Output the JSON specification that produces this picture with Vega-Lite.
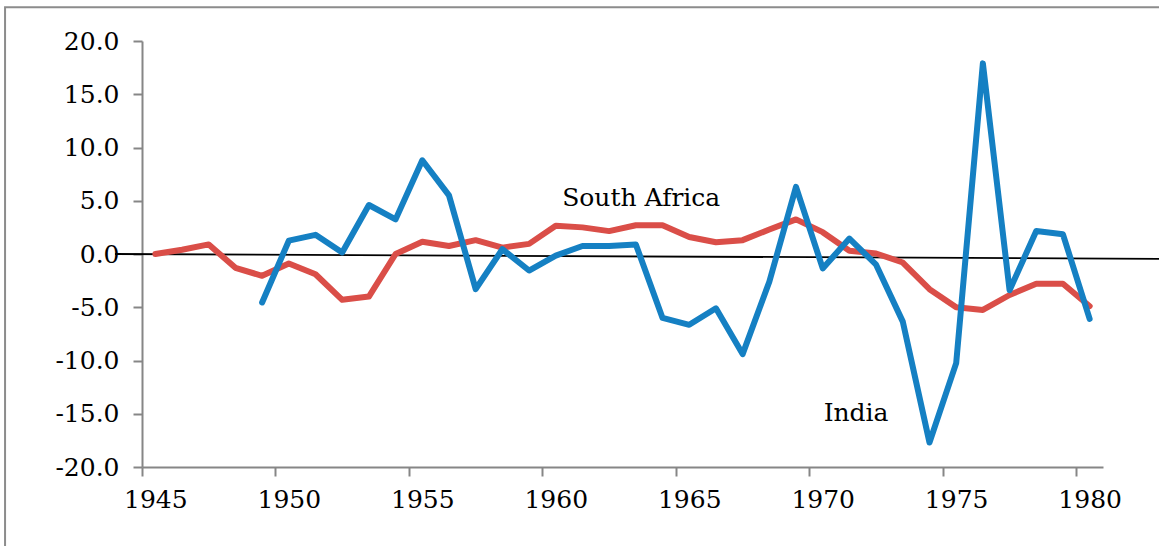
{
  "$schema": "https://vega.github.io/schema/vega-lite/v6.json",
  "width": 961,
  "height": 426,
  "autosize": {"type": "none"},
  "padding": {"left": 142, "top": 41, "right": 56, "bottom": 79},
  "background": "white",
  "config": {
    "view": {"stroke": null},
    "axis": {
      "domainColor": "#868686",
      "domainWidth": 2,
      "tickColor": "#868686",
      "tickWidth": 2,
      "tickSize": 9,
      "grid": false,
      "labelFont": "DejaVu Serif",
      "labelFontSize": 25,
      "labelColor": "#000000",
      "title": null
    },
    "text": {"font": "DejaVu Serif", "fontSize": 25, "color": "#000000"}
  },
  "datasets": {
    "series": [
      {"series": "South Africa", "year": 1945, "value": 0.0},
      {"series": "South Africa", "year": 1946, "value": 0.4},
      {"series": "South Africa", "year": 1947, "value": 0.9},
      {"series": "South Africa", "year": 1948, "value": -1.3},
      {"series": "South Africa", "year": 1949, "value": -2.05},
      {"series": "South Africa", "year": 1950, "value": -0.9},
      {"series": "South Africa", "year": 1951, "value": -1.9},
      {"series": "South Africa", "year": 1952, "value": -4.3},
      {"series": "South Africa", "year": 1953, "value": -4.0},
      {"series": "South Africa", "year": 1954, "value": 0.0},
      {"series": "South Africa", "year": 1955, "value": 1.15},
      {"series": "South Africa", "year": 1956, "value": 0.75},
      {"series": "South Africa", "year": 1957, "value": 1.3},
      {"series": "South Africa", "year": 1958, "value": 0.6},
      {"series": "South Africa", "year": 1959, "value": 0.95},
      {"series": "South Africa", "year": 1960, "value": 2.65},
      {"series": "South Africa", "year": 1961, "value": 2.5},
      {"series": "South Africa", "year": 1962, "value": 2.15},
      {"series": "South Africa", "year": 1963, "value": 2.7},
      {"series": "South Africa", "year": 1964, "value": 2.7},
      {"series": "South Africa", "year": 1965, "value": 1.6},
      {"series": "South Africa", "year": 1966, "value": 1.1},
      {"series": "South Africa", "year": 1967, "value": 1.3},
      {"series": "South Africa", "year": 1968, "value": 2.3},
      {"series": "South Africa", "year": 1969, "value": 3.25},
      {"series": "South Africa", "year": 1970, "value": 2.05},
      {"series": "South Africa", "year": 1971, "value": 0.3},
      {"series": "South Africa", "year": 1972, "value": 0.05},
      {"series": "South Africa", "year": 1973, "value": -0.8},
      {"series": "South Africa", "year": 1974, "value": -3.3},
      {"series": "South Africa", "year": 1975, "value": -5.0},
      {"series": "South Africa", "year": 1976, "value": -5.25},
      {"series": "South Africa", "year": 1977, "value": -3.85},
      {"series": "South Africa", "year": 1978, "value": -2.8},
      {"series": "South Africa", "year": 1979, "value": -2.8},
      {"series": "South Africa", "year": 1980, "value": -4.9},
      {"series": "India", "year": 1949, "value": -4.55},
      {"series": "India", "year": 1950, "value": 1.25},
      {"series": "India", "year": 1951, "value": 1.8},
      {"series": "India", "year": 1952, "value": 0.15},
      {"series": "India", "year": 1953, "value": 4.6},
      {"series": "India", "year": 1954, "value": 3.25},
      {"series": "India", "year": 1955, "value": 8.8},
      {"series": "India", "year": 1956, "value": 5.5},
      {"series": "India", "year": 1957, "value": -3.3},
      {"series": "India", "year": 1958, "value": 0.45},
      {"series": "India", "year": 1959, "value": -1.55},
      {"series": "India", "year": 1960, "value": -0.15},
      {"series": "India", "year": 1961, "value": 0.75},
      {"series": "India", "year": 1962, "value": 0.75},
      {"series": "India", "year": 1963, "value": 0.9},
      {"series": "India", "year": 1964, "value": -6.0},
      {"series": "India", "year": 1965, "value": -6.65},
      {"series": "India", "year": 1966, "value": -5.1},
      {"series": "India", "year": 1967, "value": -9.4},
      {"series": "India", "year": 1968, "value": -2.6},
      {"series": "India", "year": 1969, "value": 6.3},
      {"series": "India", "year": 1970, "value": -1.35},
      {"series": "India", "year": 1971, "value": 1.45},
      {"series": "India", "year": 1972, "value": -1.0},
      {"series": "India", "year": 1973, "value": -6.35},
      {"series": "India", "year": 1974, "value": -17.7},
      {"series": "India", "year": 1975, "value": -10.25},
      {"series": "India", "year": 1976, "value": 17.9},
      {"series": "India", "year": 1977, "value": -3.4},
      {"series": "India", "year": 1978, "value": 2.15},
      {"series": "India", "year": 1979, "value": 1.85},
      {"series": "India", "year": 1980, "value": -6.1}
    ]
  },
  "encoding": {
    "x": {
      "field": "year",
      "type": "quantitative",
      "scale": {"domain": [1944.5, 1980.5], "nice": false, "zero": false},
      "axis": {
        "values": [1944.5, 1949.5, 1954.5, 1959.5, 1964.5, 1969.5, 1974.5, 1979.5],
        "labelExpr": "format(datum.value + 0.5, 'd')",
        "labelOffset": 13.35,
        "labelPadding": 11,
        "labelFlush": false,
        "labelOverlap": false
      }
    },
    "y": {
      "field": "value",
      "type": "quantitative",
      "scale": {"domain": [-20, 20], "nice": false, "zero": false},
      "axis": {
        "values": [-20, -15, -10, -5, 0, 5, 10, 15, 20],
        "labelExpr": "datum.value < 0 ? '-' + format(-datum.value, '.1f') : format(datum.value, '.1f')",
        "labelPadding": 14,
        "labelFlush": false,
        "labelOverlap": false
      }
    }
  },
  "layer": [
    {
      "data": {"values": [{"year": 1939.37, "year2": 1983.2, "value": 23.16, "value2": -29}]},
      "mark": {"type": "rect", "fill": null, "stroke": "#8c8c8c", "strokeWidth": 2, "clip": false},
      "encoding": {"x2": {"field": "year2"}, "y2": {"field": "value2"}}
    },
    {
      "data": {"values": [{"year": 1943.49, "year2": 1982.6, "value": 0.0, "value2": -0.45}]},
      "mark": {"type": "rule", "color": "#000000", "strokeWidth": 1.8, "clip": false},
      "encoding": {"x2": {"field": "year2"}, "y2": {"field": "value2"}}
    },
    {
      "data": {"name": "series"},
      "mark": {"type": "line", "strokeWidth": 6, "strokeCap": "round", "strokeJoin": "round"},
      "encoding": {
        "color": {
          "field": "series",
          "type": "nominal",
          "scale": {"domain": ["India", "South Africa"], "range": ["#1580C3", "#DA4E48"]},
          "legend": null
        }
      }
    },
    {
      "data": {"values": [
        {"label": "South Africa", "year": 1963.2, "value": 5.25},
        {"label": "India", "year": 1971.25, "value": -14.9}
      ]},
      "mark": {"type": "text", "align": "center", "baseline": "middle"},
      "encoding": {"text": {"field": "label"}}
    }
  ]
}
